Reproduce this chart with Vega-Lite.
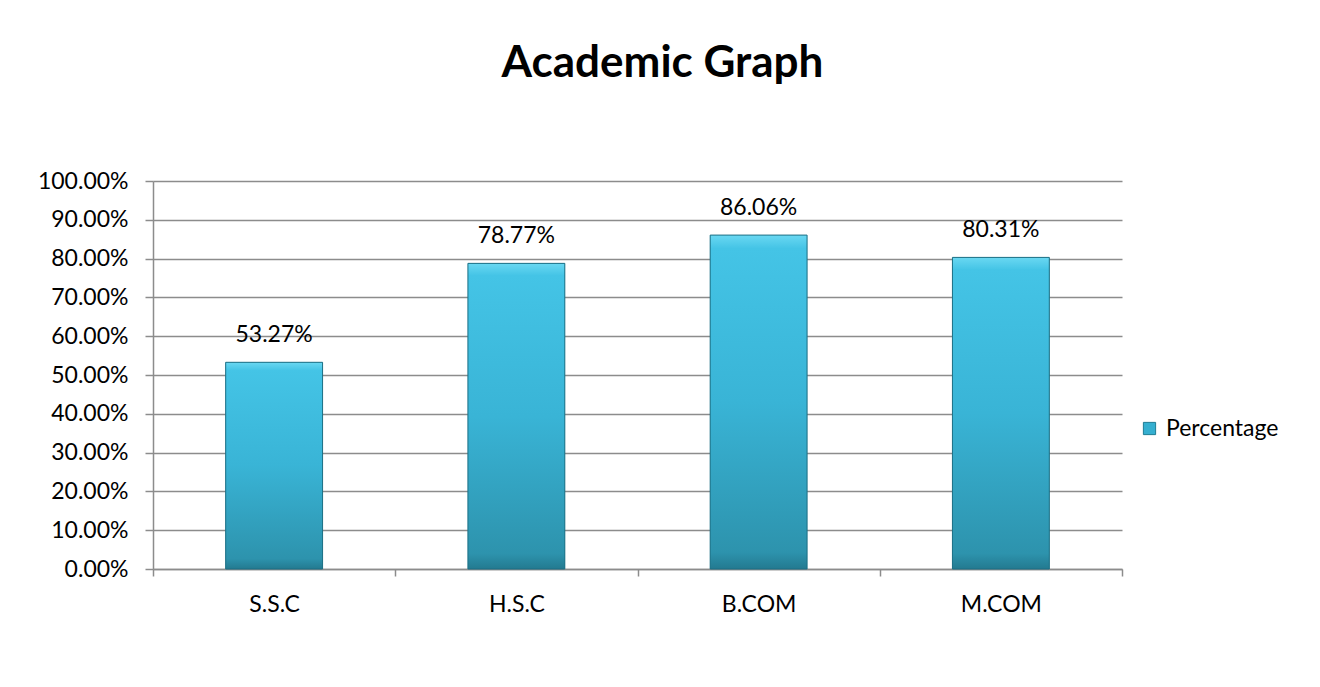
{
  "$schema": "https://vega.github.io/schema/vega-lite/v6.json",
  "autosize": {"type": "none"},
  "width": 969,
  "height": 388,
  "padding": {"left": 153, "top": 181, "right": 198, "bottom": 118},
  "background": "white",
  "config": {
    "font": "Lato",
    "view": {"stroke": null}
  },
  "title": {
    "text": "Academic Graph",
    "font": "Lato",
    "fontSize": 44,
    "fontWeight": "bold",
    "color": "#000000",
    "anchor": "middle",
    "dx": 25,
    "offset": 84
  },
  "data": {
    "values": [
      {"level": "S.S.C", "pct": 0.5327, "series": "Percentage"},
      {"level": "H.S.C", "pct": 0.7877, "series": "Percentage"},
      {"level": "B.COM", "pct": 0.8606, "series": "Percentage"},
      {"level": "M.COM", "pct": 0.8031, "series": "Percentage"}
    ]
  },
  "encoding": {
    "x": {
      "field": "level",
      "type": "nominal",
      "sort": null,
      "scale": {"paddingInner": 0, "paddingOuter": 0},
      "axis": {
        "title": null,
        "labelAngle": 0,
        "labelFont": "Lato",
        "labelFontSize": 23,
        "labelColor": "#000000",
        "labelPadding": 17,
        "tickBand": "extent",
        "tickSize": 7,
        "tickColor": "#8c8c8c",
        "tickWidth": 1.5,
        "domainColor": "#8c8c8c",
        "domainWidth": 1.5,
        "grid": false
      }
    },
    "y": {
      "field": "pct",
      "type": "quantitative",
      "scale": {"domain": [0, 1], "nice": false},
      "axis": {
        "title": null,
        "values": [0, 0.1, 0.2, 0.3, 0.4, 0.5, 0.6, 0.7, 0.8, 0.9, 1.0],
        "format": ".2%",
        "labelFont": "Lato",
        "labelFontSize": 23,
        "labelColor": "#000000",
        "labelPadding": 17,
        "tickSize": 8,
        "tickColor": "#8c8c8c",
        "tickWidth": 1.5,
        "domainColor": "#8c8c8c",
        "domainWidth": 1.5,
        "grid": true,
        "gridColor": "#8c8c8c",
        "gridWidth": 1.5
      }
    }
  },
  "layer": [
    {
      "mark": {"type": "bar", "width": {"band": 0.4}},
      "encoding": {
        "color": {
          "field": "series",
          "type": "nominal",
          "scale": {"range": ["#35AFD0"]},
          "legend": {
            "title": null,
            "orient": "none",
            "legendX": 985,
            "legendY": 236,
            "symbolType": "square",
            "symbolSize": 150,
            "symbolStrokeColor": "#1f7d94",
            "symbolStrokeWidth": 1,
            "labelFont": "Lato",
            "labelFontSize": 23,
            "labelColor": "#000000",
            "labelOffset": 5
          }
        }
      }
    },
    {
      "mark": {
        "type": "bar",
        "width": {"band": 0.4},
        "stroke": "#1d6f84",
        "strokeWidth": 1,
        "fill": {
          "gradient": "linear",
          "x1": 0, "y1": 0, "x2": 0, "y2": 1,
          "stops": [
            {"offset": 0, "color": "#6ad8f2"},
            {"offset": 0.04, "color": "#44c4e6"},
            {"offset": 0.5, "color": "#39b4d6"},
            {"offset": 0.95, "color": "#2d93ad"},
            {"offset": 1, "color": "#237a90"}
          ]
        }
      }
    },
    {
      "mark": {
        "type": "text",
        "baseline": "bottom",
        "dy": -15,
        "font": "Lato",
        "fontSize": 23,
        "color": "#000000"
      },
      "encoding": {
        "text": {"field": "pct", "type": "quantitative", "format": ".2%"}
      }
    }
  ]
}
